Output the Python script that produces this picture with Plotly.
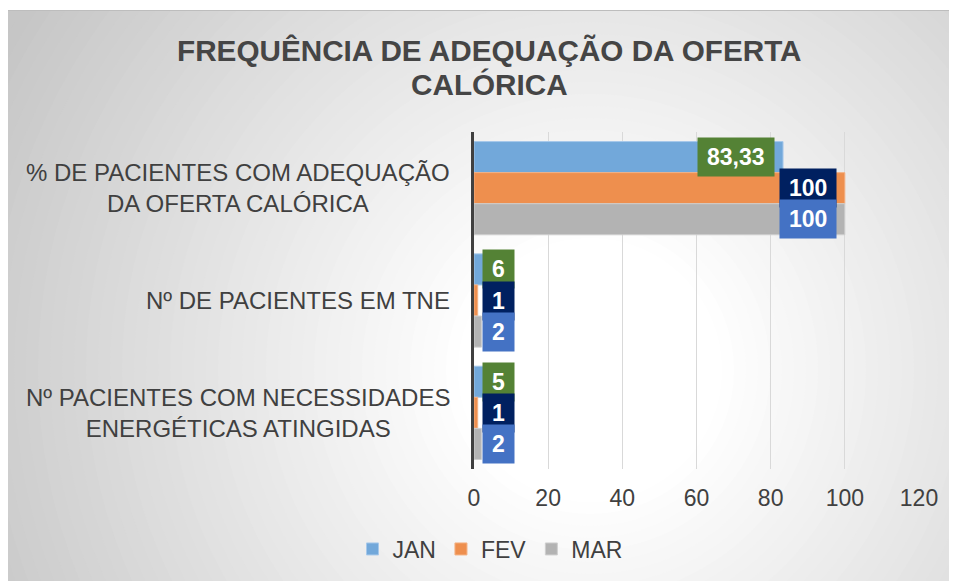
import plotly.graph_objects as go

# ---------------- data ----------------
categories = [
    "% DE PACIENTES COM ADEQUAÇÃO DA OFERTA CALÓRICA",
    "Nº DE PACIENTES EM TNE",
    "Nº PACIENTES COM NECESSIDADES ENERGÉTICAS ATINGIDAS",
]
category_tick_labels = [
    "% DE PACIENTES COM ADEQUAÇÃO<br>DA OFERTA CALÓRICA",
    "Nº DE PACIENTES EM TNE",
    "Nº PACIENTES COM NECESSIDADES<br>ENERGÉTICAS ATINGIDAS",
]
series_names = ["JAN", "FEV", "MAR"]
jan_values = [83.33, 6, 5]
fev_values = [100, 1, 1]
mar_values = [100, 2, 2]
x_tick_values = [0, 20, 40, 60, 80, 100, 120]
title_lines = ["FREQUÊNCIA DE ADEQUAÇÃO DA OFERTA", "CALÓRICA"]

# ---------------- style ----------------
OFF = 8  # page body margin
W_FIG, H_FIG = 957 - OFF, 581 - OFF
L, R, T, B = 466, 38, 124, 112
PW, PH = W_FIG - L - R, H_FIG - T - B
TXT = "#404040"
FONT = "Liberation Sans, Arial, sans-serif"
bar_colors = ["#72a8da", "#ee8f4e", "#b3b3b3"]
bar_lines = ["#a6c8ea", "#f4b183", "#cfcfcf"]
label_bg = ["#548235", "#002060", "#4472C4"]
BARGAP = 0.17


def px_x(sx):
    return (sx - OFF - L) / PW


def px_y(sy):
    return (T + PH - (sy - OFF)) / PH


fig = go.Figure()
all_series = [jan_values, fev_values, mar_values]
for name, vals, col, lc in zip(series_names, all_series, bar_colors, bar_lines):
    fig.add_trace(go.Bar(
        y=categories, x=vals, name=name, orientation="h",
        marker=dict(color=col, line=dict(color=lc, width=1)),
        hoverinfo="x+name",
    ))

# ---------------- background gradient ----------------
shapes = []
shapes.append(dict(type="rect", xref="paper", yref="paper", layer="below",
                   x0=px_x(0), x1=px_x(990), y0=px_y(0), y1=px_y(620),
                   fillcolor="#c6c6c6", line=dict(width=0)))
cx, cy = 590, 370
for r in range(900, 40, -12):
    c = int(round(255 - 0.105 * max(0, r - 130)))
    c = max(c, 198)
    shapes.append(dict(type="circle", xref="paper", yref="paper", layer="below",
                       x0=px_x(cx - r), x1=px_x(cx + r),
                       y0=px_y(cy + r), y1=px_y(cy - r),
                       fillcolor=f"rgb({c},{c},{c})", line=dict(width=0)))
shapes.append(dict(type="rect", xref="paper", yref="paper", layer="below",
                   x0=px_x(-20), x1=px_x(990), y0=px_y(-20), y1=px_y(10),
                   fillcolor="white", line=dict(width=0)))
shapes.append(dict(type="line", xref="paper", yref="paper", layer="below",
                   x0=px_x(0), x1=px_x(990), y0=px_y(10.5), y1=px_y(10.5),
                   line=dict(width=1, color="#bdbdbd")))

# ---------------- annotations ----------------
annotations = []
for line, sy in zip(title_lines, [50, 85]):
    annotations.append(dict(
        x=px_x(489), xref="paper", y=px_y(sy), yref="paper",
        xanchor="center", yanchor="middle", text=line, showarrow=False,
        font=dict(family=FONT, size=29.7, color="#454545", weight="bold"),
    ))

for i, lab in enumerate(category_tick_labels):
    annotations.append(dict(
        x=px_x(452), xref="paper", y=i, yref="y", xanchor="right", yanchor="middle",
        text=lab, showarrow=False, align="center",
        font=dict(family=FONT, size=24, color=TXT),
    ))

bar_w = (1 - BARGAP) / 3
LBL_SIZE = 23


def est_width(s):
    w = 0
    for ch in s:
        w += 0.278 if ch in ",." else 0.556
    return w * LBL_SIZE


for k, vals in enumerate(all_series):
    for i, v in enumerate(vals):
        s = f"{v:g}".replace(".", ",")
        yy = i + (k - 1) * bar_w
        if v >= 50:
            xpos, xa, xs = v, "right", -8
        else:
            xpos, xa, xs = 0, "left", 8
        annotations.append(dict(
            x=xpos, y=yy, xref="x", yref="y", xanchor=xa, yanchor="middle",
            xshift=xs, text=f"<b>{s}</b>", showarrow=False,
            font=dict(family=FONT, size=LBL_SIZE, color="white"),
            bgcolor=label_bg[k], borderpad=6, width=est_width(s) + 6,
        ))

fig.update_layout(
    width=W_FIG, height=H_FIG,
    margin=dict(l=L, r=R, t=T, b=B, autoexpand=False),
    paper_bgcolor="white",
    plot_bgcolor="rgba(0,0,0,0)",
    barmode="group", bargap=BARGAP, bargroupgap=0,
    shapes=shapes, annotations=annotations,
    xaxis=dict(range=[0, 120], tickvals=x_tick_values, showgrid=True,
               gridcolor="#d9d9d9", gridwidth=1, zeroline=False, showline=False,
               tickfont=dict(family=FONT, size=23, color=TXT), ticks="",
               ticklabelstandoff=13, fixedrange=True),
    yaxis=dict(autorange="reversed", showticklabels=False, showgrid=False,
               zeroline=False, showline=True, linecolor="#404040", linewidth=3,
               ticks="", fixedrange=True),
    legend=dict(orientation="h", x=px_x(490), xanchor="center",
                y=px_y(549), yanchor="middle", bgcolor="rgba(0,0,0,0)",
                font=dict(family=FONT, size=23, color=TXT),
                traceorder="normal"),
    showlegend=True,
)

fig.write_html("out.html")
